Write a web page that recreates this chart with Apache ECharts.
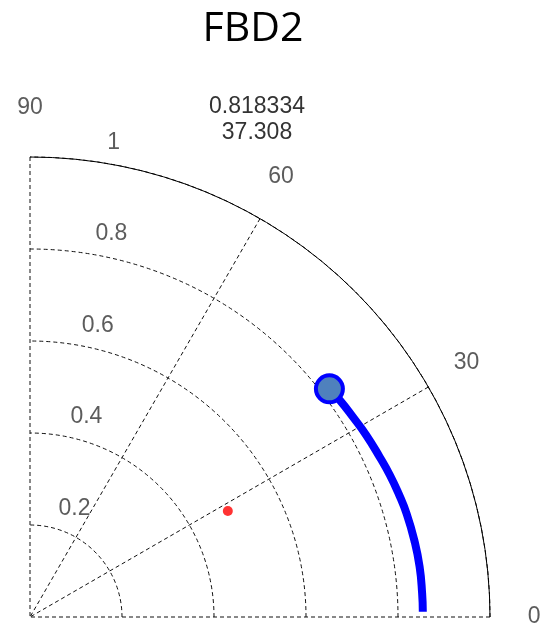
<!DOCTYPE html>
<html>
<head>
<meta charset="utf-8">
<script src="https://cdn.jsdelivr.net/npm/echarts@6/dist/echarts.min.js"></script>
<style>
html,body{margin:0;padding:0;background:#fff;}
#chart{width:540px;height:630px;}
</style>
</head>
<body>
<div id="chart"></div>
<script>
// ---- data ----
var chartTitle = 'FBD2';
var annotationLines = ['0.818334', '37.308'];
// model curve: [radius, angle(deg)]
var curveRadius = [0.818, 0.822, 0.826, 0.831, 0.836, 0.841, 0.845, 0.849, 0.852, 0.854, 0.854, 0.854];
var curveAngle  = [37.308, 35.0, 31.6, 28.4, 24.6, 21.5, 18.5, 15.3, 11.3, 7.35, 3.46, 0.77];
// highlighted point
var markerPoint = [0.818334, 37.308];
// reference (red) point
var refPoint = [0.488, 28.2];
// tick labels
var angleTickLabels = ['0', '30', '60', '90'];
var angleTickLabelR = [1.096, 1.098, 1.101, 1.107];
var angleTickLabelA = [0, 30.2, 60.3, 90];
var radiusTickLabels = ['0.2', '0.4', '0.6', '0.8', '1'];
var radiusTickLabelR = [0.254, 0.453, 0.650, 0.851, 1.048];
var radiusTickLabelA = [67.6, 74.3, 76.9, 78.0, 80.0];

var chart = echarts.init(document.getElementById('chart'), null, {renderer: 'canvas'});

var curveData = curveRadius.map(function (r, i) { return [r, curveAngle[i]]; });
var labelData = [];
angleTickLabels.forEach(function (t, i) { labelData.push([angleTickLabelR[i], angleTickLabelA[i], t]); });
radiusTickLabels.forEach(function (t, i) { labelData.push([radiusTickLabelR[i], radiusTickLabelA[i], t]); });

var R = 460;
var labelScale = 1.2; // second (label) polar extends beyond the unit circle
var dash = [4, 3];
var option = {
  animation: false,
  backgroundColor: '#fff',
  title: {
    text: chartTitle,
    left: 248, top: 4, textAlign: 'center',
    textStyle: {fontFamily: 'Open Sans', fontSize: 41, fontWeight: 'normal', color: '#000'}
  },
  graphic: annotationLines.map(function (t, i) {
    return {
      type: 'text', x: 257, y: 107 + i * 26,
      style: {text: t, fill: '#333', font: '23px "Liberation Sans"', textAlign: 'center', textVerticalAlign: 'middle'}
    };
  }),
  polar: [
    {center: [30, 617], radius: R},
    {center: [30, 617], radius: R * labelScale}
  ],
  angleAxis: [{
    polarIndex: 0,
    type: 'value', min: 0, max: 90, interval: 30,
    startAngle: 0, endAngle: 90, clockwise: false,
    axisLine: {show: true, lineStyle: {color: '#000', width: 1, type: 'solid'}},
    axisTick: {show: false},
    axisLabel: {show: false},
    splitLine: {show: true, lineStyle: {color: '#111', width: 1, type: dash}}
  }, {
    polarIndex: 1,
    type: 'value', min: 0, max: 90, interval: 30,
    startAngle: 0, endAngle: 90, clockwise: false,
    axisLine: {show: false}, axisTick: {show: false}, axisLabel: {show: false}, splitLine: {show: false}
  }],
  radiusAxis: [{
    polarIndex: 0,
    type: 'value', min: 0, max: 1, interval: 0.2,
    axisLine: {show: false},
    axisTick: {show: false},
    axisLabel: {show: false},
    splitLine: {show: true, lineStyle: {color: '#111', width: 1, type: dash}}
  }, {
    polarIndex: 1,
    type: 'value', min: 0, max: labelScale,
    axisLine: {show: false}, axisTick: {show: false}, axisLabel: {show: false}, splitLine: {show: false}
  }],
  series: [
    {
      type: 'line', coordinateSystem: 'polar', polarIndex: 0, data: curveData,
      symbol: 'none', smooth: true,
      lineStyle: {color: '#0000ff', width: 8},
      z: 3
    },
    {
      type: 'scatter', coordinateSystem: 'polar', polarIndex: 0, data: [markerPoint],
      symbol: 'circle', symbolSize: 27,
      itemStyle: {color: '#4f81bd', borderColor: '#0000ff', borderWidth: 4, opacity: 1},
      z: 5
    },
    {
      type: 'scatter', coordinateSystem: 'polar', polarIndex: 0, data: [refPoint],
      symbol: 'circle', symbolSize: 10,
      itemStyle: {color: '#ff0000'},
      z: 4
    },
    {
      type: 'scatter', coordinateSystem: 'polar', polarIndex: 1, data: labelData,
      symbol: 'circle', symbolSize: 1,
      itemStyle: {color: 'transparent'},
      label: {
        show: true, position: 'inside',
        formatter: function (p) { return p.value[2]; },
        fontFamily: 'Liberation Sans', fontSize: 23, color: '#333'
      },
      silent: true, z: 6
    }
  ]
};
chart.setOption(option);
</script>
</body>
</html>
